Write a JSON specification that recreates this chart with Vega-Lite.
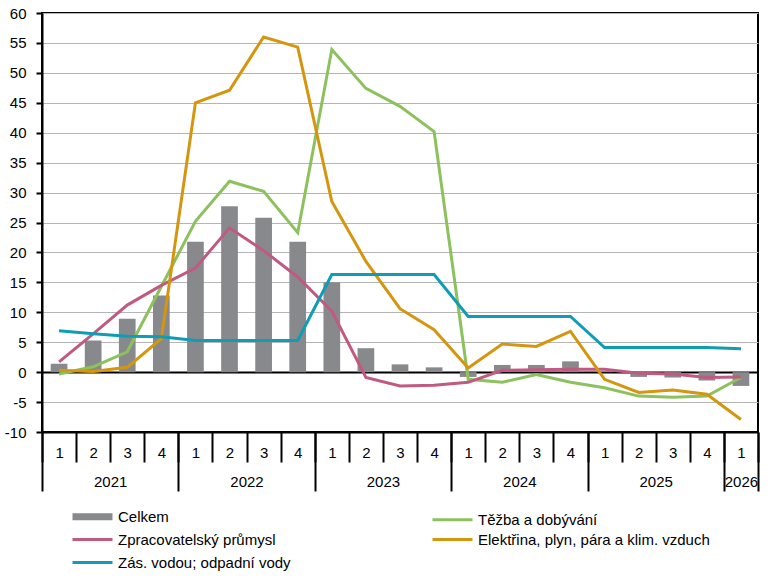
{
  "$schema": "https://vega.github.io/schema/vega-lite/v6.json",
  "width": 716,
  "height": 419,
  "autosize": "none",
  "padding": {"left": 42, "top": 13, "right": 21, "bottom": 153},
  "config": {
    "font": "Liberation Sans",
    "view": {"stroke": "black", "strokeWidth": 2},
    "axisY": {
      "labelFont": "Liberation Sans", "labelFontSize": 15, "labelColor": "black", "labelPadding": 10,
      "tickSize": 6, "tickWidth": 2, "tickColor": "black",
      "domainColor": "black", "domainWidth": 2, "labelOverlap": false
    },
    "legend": {"labelFont": "Liberation Sans"}
  },
  "data": {
    "values": [
      {"period": "2021 Q1", "series": "Celkem", "value": 1.4},
      {"period": "2021 Q2", "series": "Celkem", "value": 5.3},
      {"period": "2021 Q3", "series": "Celkem", "value": 8.9},
      {"period": "2021 Q4", "series": "Celkem", "value": 12.8},
      {"period": "2022 Q1", "series": "Celkem", "value": 21.8},
      {"period": "2022 Q2", "series": "Celkem", "value": 27.7},
      {"period": "2022 Q3", "series": "Celkem", "value": 25.8},
      {"period": "2022 Q4", "series": "Celkem", "value": 21.8},
      {"period": "2023 Q1", "series": "Celkem", "value": 15.0},
      {"period": "2023 Q2", "series": "Celkem", "value": 4.0},
      {"period": "2023 Q3", "series": "Celkem", "value": 1.3},
      {"period": "2023 Q4", "series": "Celkem", "value": 0.8},
      {"period": "2024 Q1", "series": "Celkem", "value": -0.8},
      {"period": "2024 Q2", "series": "Celkem", "value": 1.2},
      {"period": "2024 Q3", "series": "Celkem", "value": 1.2},
      {"period": "2024 Q4", "series": "Celkem", "value": 1.8},
      {"period": "2025 Q1", "series": "Celkem", "value": 0.2},
      {"period": "2025 Q2", "series": "Celkem", "value": -0.8},
      {"period": "2025 Q3", "series": "Celkem", "value": -0.9},
      {"period": "2025 Q4", "series": "Celkem", "value": -1.4},
      {"period": "2026 Q1", "series": "Celkem", "value": -2.3},

      {"period": "2021 Q1", "series": "Těžba a dobývání", "value": -0.3},
      {"period": "2021 Q2", "series": "Těžba a dobývání", "value": 0.9},
      {"period": "2021 Q3", "series": "Těžba a dobývání", "value": 3.4},
      {"period": "2021 Q4", "series": "Těžba a dobývání", "value": 14.3},
      {"period": "2022 Q1", "series": "Těžba a dobývání", "value": 25.2},
      {"period": "2022 Q2", "series": "Těžba a dobývání", "value": 31.9},
      {"period": "2022 Q3", "series": "Těžba a dobývání", "value": 30.2},
      {"period": "2022 Q4", "series": "Těžba a dobývání", "value": 23.3},
      {"period": "2023 Q1", "series": "Těžba a dobývání", "value": 53.9},
      {"period": "2023 Q2", "series": "Těžba a dobývání", "value": 47.4},
      {"period": "2023 Q3", "series": "Těžba a dobývání", "value": 44.4},
      {"period": "2023 Q4", "series": "Těžba a dobývání", "value": 40.2},
      {"period": "2024 Q1", "series": "Těžba a dobývání", "value": -1.2},
      {"period": "2024 Q2", "series": "Těžba a dobývání", "value": -1.7},
      {"period": "2024 Q3", "series": "Těžba a dobývání", "value": -0.4},
      {"period": "2024 Q4", "series": "Těžba a dobývání", "value": -1.7},
      {"period": "2025 Q1", "series": "Těžba a dobývání", "value": -2.6},
      {"period": "2025 Q2", "series": "Těžba a dobývání", "value": -4.0},
      {"period": "2025 Q3", "series": "Těžba a dobývání", "value": -4.2},
      {"period": "2025 Q4", "series": "Těžba a dobývání", "value": -4.0},
      {"period": "2026 Q1", "series": "Těžba a dobývání", "value": -0.9},

      {"period": "2021 Q1", "series": "Zpracovatelský průmysl", "value": 1.7},
      {"period": "2021 Q2", "series": "Zpracovatelský průmysl", "value": 6.4},
      {"period": "2021 Q3", "series": "Zpracovatelský průmysl", "value": 11.2},
      {"period": "2021 Q4", "series": "Zpracovatelský průmysl", "value": 14.5},
      {"period": "2022 Q1", "series": "Zpracovatelský průmysl", "value": 17.4},
      {"period": "2022 Q2", "series": "Zpracovatelský průmysl", "value": 24.1},
      {"period": "2022 Q3", "series": "Zpracovatelský průmysl", "value": 20.3},
      {"period": "2022 Q4", "series": "Zpracovatelský průmysl", "value": 15.9},
      {"period": "2023 Q1", "series": "Zpracovatelský průmysl", "value": 10.2},
      {"period": "2023 Q2", "series": "Zpracovatelský průmysl", "value": -0.9},
      {"period": "2023 Q3", "series": "Zpracovatelský průmysl", "value": -2.3},
      {"period": "2023 Q4", "series": "Zpracovatelský průmysl", "value": -2.2},
      {"period": "2024 Q1", "series": "Zpracovatelský průmysl", "value": -1.7},
      {"period": "2024 Q2", "series": "Zpracovatelský průmysl", "value": 0.3},
      {"period": "2024 Q3", "series": "Zpracovatelský průmysl", "value": 0.4},
      {"period": "2024 Q4", "series": "Zpracovatelský průmysl", "value": 0.5},
      {"period": "2025 Q1", "series": "Zpracovatelský průmysl", "value": 0.5},
      {"period": "2025 Q2", "series": "Zpracovatelský průmysl", "value": -0.2},
      {"period": "2025 Q3", "series": "Zpracovatelský průmysl", "value": -0.3},
      {"period": "2025 Q4", "series": "Zpracovatelský průmysl", "value": -0.9},
      {"period": "2026 Q1", "series": "Zpracovatelský průmysl", "value": -0.8},

      {"period": "2021 Q1", "series": "Elektřina, plyn, pára a klim. vzduch", "value": 0.3},
      {"period": "2021 Q2", "series": "Elektřina, plyn, pára a klim. vzduch", "value": 0.1},
      {"period": "2021 Q3", "series": "Elektřina, plyn, pára a klim. vzduch", "value": 0.8},
      {"period": "2021 Q4", "series": "Elektřina, plyn, pára a klim. vzduch", "value": 5.6},
      {"period": "2022 Q1", "series": "Elektřina, plyn, pára a klim. vzduch", "value": 45.0},
      {"period": "2022 Q2", "series": "Elektřina, plyn, pára a klim. vzduch", "value": 47.1},
      {"period": "2022 Q3", "series": "Elektřina, plyn, pára a klim. vzduch", "value": 56.0},
      {"period": "2022 Q4", "series": "Elektřina, plyn, pára a klim. vzduch", "value": 54.3},
      {"period": "2023 Q1", "series": "Elektřina, plyn, pára a klim. vzduch", "value": 28.5},
      {"period": "2023 Q2", "series": "Elektřina, plyn, pára a klim. vzduch", "value": 18.5},
      {"period": "2023 Q3", "series": "Elektřina, plyn, pára a klim. vzduch", "value": 10.6},
      {"period": "2023 Q4", "series": "Elektřina, plyn, pára a klim. vzduch", "value": 7.1},
      {"period": "2024 Q1", "series": "Elektřina, plyn, pára a klim. vzduch", "value": 0.7},
      {"period": "2024 Q2", "series": "Elektřina, plyn, pára a klim. vzduch", "value": 4.7},
      {"period": "2024 Q3", "series": "Elektřina, plyn, pára a klim. vzduch", "value": 4.3},
      {"period": "2024 Q4", "series": "Elektřina, plyn, pára a klim. vzduch", "value": 6.8},
      {"period": "2025 Q1", "series": "Elektřina, plyn, pára a klim. vzduch", "value": -1.2},
      {"period": "2025 Q2", "series": "Elektřina, plyn, pára a klim. vzduch", "value": -3.4},
      {"period": "2025 Q3", "series": "Elektřina, plyn, pára a klim. vzduch", "value": -3.0},
      {"period": "2025 Q4", "series": "Elektřina, plyn, pára a klim. vzduch", "value": -3.7},
      {"period": "2026 Q1", "series": "Elektřina, plyn, pára a klim. vzduch", "value": -7.9},

      {"period": "2021 Q1", "series": "Zás. vodou; odpadní vody", "value": 6.9},
      {"period": "2021 Q2", "series": "Zás. vodou; odpadní vody", "value": 6.4},
      {"period": "2021 Q3", "series": "Zás. vodou; odpadní vody", "value": 6.0},
      {"period": "2021 Q4", "series": "Zás. vodou; odpadní vody", "value": 5.9},
      {"period": "2022 Q1", "series": "Zás. vodou; odpadní vody", "value": 5.3},
      {"period": "2022 Q2", "series": "Zás. vodou; odpadní vody", "value": 5.3},
      {"period": "2022 Q3", "series": "Zás. vodou; odpadní vody", "value": 5.3},
      {"period": "2022 Q4", "series": "Zás. vodou; odpadní vody", "value": 5.3},
      {"period": "2023 Q1", "series": "Zás. vodou; odpadní vody", "value": 16.3},
      {"period": "2023 Q2", "series": "Zás. vodou; odpadní vody", "value": 16.3},
      {"period": "2023 Q3", "series": "Zás. vodou; odpadní vody", "value": 16.3},
      {"period": "2023 Q4", "series": "Zás. vodou; odpadní vody", "value": 16.3},
      {"period": "2024 Q1", "series": "Zás. vodou; odpadní vody", "value": 9.3},
      {"period": "2024 Q2", "series": "Zás. vodou; odpadní vody", "value": 9.3},
      {"period": "2024 Q3", "series": "Zás. vodou; odpadní vody", "value": 9.3},
      {"period": "2024 Q4", "series": "Zás. vodou; odpadní vody", "value": 9.3},
      {"period": "2025 Q1", "series": "Zás. vodou; odpadní vody", "value": 4.1},
      {"period": "2025 Q2", "series": "Zás. vodou; odpadní vody", "value": 4.1},
      {"period": "2025 Q3", "series": "Zás. vodou; odpadní vody", "value": 4.1},
      {"period": "2025 Q4", "series": "Zás. vodou; odpadní vody", "value": 4.1},
      {"period": "2026 Q1", "series": "Zás. vodou; odpadní vody", "value": 3.9}
    ]
  },
  "layer": [
    {
      "transform": [{"filter": "datum.series === 'Celkem'"}],
      "mark": {"type": "bar", "width": {"band": 0.49}},
      "encoding": {
        "x": {
          "field": "period",
          "type": "ordinal",
          "scale": {"paddingInner": 0, "paddingOuter": 0},
          "axis": {
            "orient": "bottom",
            "title": null,
            "grid": false,
            "tickBand": "extent",
            "tickSize": 30,
            "tickWidth": 2,
            "tickColor": "black",
            "domainColor": "black",
            "domainWidth": 2,
            "labelExpr": "datum.value ? slice(datum.value, 6) : ''",
            "labelAngle": 0,
            "labelPadding": -17,
            "labelFont": "Liberation Sans",
            "labelFontSize": 15,
            "labelColor": "black"
          }
        },
        "y": {
          "field": "value",
          "type": "quantitative",
          "scale": {"domain": [-10, 60], "nice": false},
          "axis": {
            "title": null,
            "values": [-10, -5, 0, 5, 10, 15, 20, 25, 30, 35, 40, 45, 50, 55, 60],
            "labelExpr": "datum.value < 0 ? '-' + abs(datum.value) : '' + datum.value",
            "gridColor": {"condition": {"test": "datum.value === 0", "value": "black"}, "value": "#b5b5b5"},
            "gridWidth": {"condition": {"test": "datum.value === 0", "value": 2}, "value": 1}
          }
        },
        "color": {
          "field": "series",
          "type": "nominal",
          "scale": {
            "domain": ["Celkem", "Zpracovatelský průmysl", "Zás. vodou; odpadní vody", "Těžba a dobývání", "Elektřina, plyn, pára a klim. vzduch"],
            "range": ["#88898d", "#c05a80", "#0f9db6", "#8cc15e", "#d4960f"]
          },
          "legend": {
            "title": null,
            "orient": "none",
            "legendX": 43,
            "legendY": 496,
            "columns": 2,
            "columnPadding": 76,
            "rowPadding": 1,
            "gridAlign": "all",
            "padding": 0,
            "symbolType": "M-4,0H4",
            "symbolSize": 100,
            "symbolStrokeWidth": 3,
            "labelOffset": 18,
            "labelFont": "Liberation Sans",
            "labelFontSize": 15,
            "labelColor": "black",
            "labelLimit": 400,
            "encode": {
              "symbols": {
                "update": {
                  "stroke": {"scale": "color", "field": "value"},
                  "strokeWidth": {"signal": "datum.value === 'Celkem' ? 7 : 3"},
                  "fill": {"value": "transparent"},
                  "opacity": {"value": 1}
                }
              }
            }
          }
        }
      }
    },
    {
      "transform": [{"filter": "datum.series !== 'Celkem'"}],
      "mark": {"type": "line", "strokeWidth": 3},
      "encoding": {
        "x": {
          "field": "period",
          "type": "ordinal",
          "axis": {
            "orient": "bottom",
            "title": null,
            "grid": false,
            "domain": false,
            "tickBand": "extent",
            "tickSize": {"condition": {"test": "!datum.value || indexof(datum.value, 'Q4') >= 0 || datum.value === '2026 Q1'", "value": 59}, "value": 0},
            "tickWidth": 2,
            "tickColor": "black",
            "labelExpr": "datum.value && (indexof(datum.value, 'Q2') >= 0 || datum.value === '2026 Q1') ? slice(datum.value, 0, 4) : ''",
            "labelOffset": {"condition": {"test": "datum.value === '2026 Q1'", "value": 0}, "value": 17},
            "labelPadding": {"condition": {"test": "datum.value === '2026 Q1'", "value": -17}, "value": 42},
            "labelOverlap": false,
            "labelAngle": 0,
            "labelFont": "Liberation Sans",
            "labelFontSize": 15,
            "labelColor": "black"
          }
        },
        "y": {
          "field": "value",
          "type": "quantitative",
          "axis": {
            "title": null,
            "values": [-10, -5, 0, 5, 10, 15, 20, 25, 30, 35, 40, 45, 50, 55, 60],
            "labelExpr": "datum.value < 0 ? '-' + abs(datum.value) : '' + datum.value",
            "gridColor": {"condition": {"test": "datum.value === 0", "value": "black"}, "value": "#b5b5b5"},
            "gridWidth": {"condition": {"test": "datum.value === 0", "value": 2}, "value": 1}
          }
        },
        "color": {"field": "series", "type": "nominal"}
      }
    }
  ],
  "resolve": {"axis": {"x": "independent"}}
}
